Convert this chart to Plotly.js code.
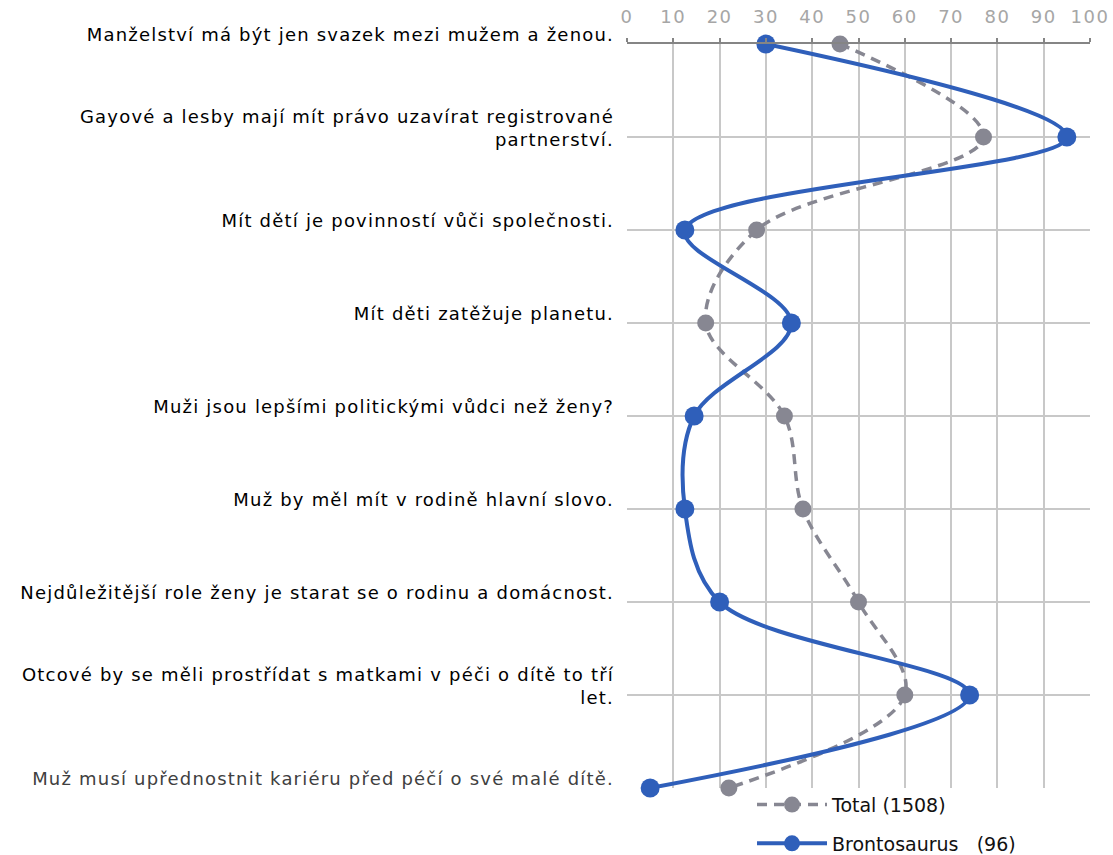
<!DOCTYPE html>
<html>
<head>
<meta charset="utf-8">
<script src="https://cdn.plot.ly/plotly-3.0.1.min.js"></script>
<style>
  html, body { margin: 0; padding: 0; background: #fff; }
  #chart { width: 1113px; height: 855px; }
  /* the original face is a wide geometric one; spread the glyphs a little */
  #chart .ytick text { letter-spacing: 1.2px; }
  #chart .xtick text { letter-spacing: 1.5px; }
</style>
</head>
<body>
<div id="chart"></div>
<script>
// statements, top to bottom
const statements = [
  "Manželství má být jen svazek mezi mužem a ženou.",
  "Gayové a lesby mají mít právo uzavírat registrované<br>partnerství.",
  "Mít dětí je povinností vůči společnosti.",
  "Mít děti zatěžuje planetu.",
  "Muži jsou lepšími politickými vůdci než ženy?",
  "Muž by měl mít v rodině hlavní slovo.",
  "Nejdůležitější role ženy je starat se o rodinu a domácnost.",
  "Otcové by se měli prostřídat s matkami v péči o dítě to tří<br>let.",
  "Muž musí upřednostnit kariéru před péčí o své malé dítě."
];

const totalValues = [46, 77, 28, 17, 34, 38, 50, 60, 22];
const brontoValues = [30, 95, 12.5, 35.5, 14.5, 12.5, 20, 74, 5];

const xTicks = [0, 10, 20, 30, 40, 50, 60, 70, 80, 90, 100];

const keys = statements.map((s, i) => "s" + i);
const labels = statements.map((s, i) =>
  i === statements.length - 1 ? '<span style="color:#404040">' + s + '</span>' : s);

const font = "DejaVu Sans, sans-serif";

const total = {
  x: totalValues,
  y: keys,
  name: "Total (1508)",
  type: "scatter",
  mode: "lines+markers",
  line: {shape: "spline", smoothing: 1, color: "#878792", width: 3.5, dash: "10px,7px"},
  marker: {size: 17, color: "#878792"},
  legendgroup: "a",
  cliponaxis: false,
};

const bronto = {
  x: brontoValues,
  y: keys,
  name: "Brontosaurus\u00a0\u00a0\u00a0(96)",
  type: "scatter",
  mode: "lines+markers",
  line: {shape: "spline", smoothing: 1, color: "#2f5fba", width: 4},
  marker: {size: 19, color: "#2f5fba"},
  legendgroup: "b",
  cliponaxis: false,
};

Plotly.newPlot("chart", [total, bronto], {
  width: 1113,
  height: 855,
  margin: {l: 627, r: 23, t: 44, b: 67, autoexpand: false},
  paper_bgcolor: "#fff",
  plot_bgcolor: "#fff",
  font: {family: font, size: 17, color: "#000"},
  showlegend: true,
  legend: {
    x: 0.27, y: 0.003, xanchor: "left", yanchor: "top",
    traceorder: "grouped", tracegroupgap: 11,
    itemwidth: 70,
    font: {family: font, size: 19, color: "#111"},
    bgcolor: "rgba(0,0,0,0)",
  },
  xaxis: {
    side: "top",
    range: [0, 100],
    tickvals: xTicks,
    showgrid: true,
    gridcolor: "#c8c8c8",
    gridwidth: 2,
    zeroline: false,
    showline: true,
    linecolor: "#858585",
    linewidth: 2,
    ticks: "outside",
    ticklen: 4,
    tickwidth: 2,
    tickcolor: "#858585",
    ticklabelstandoff: 8,
    tickfont: {family: font, size: 18, color: "#a6a6a6"},
    fixedrange: true,
  },
  yaxis: {
    type: "category",
    range: [statements.length - 1, 0],
    tickvals: keys,
    ticktext: labels,
    showgrid: true,
    gridcolor: "#c8c8c8",
    gridwidth: 2,
    zeroline: false,
    showline: false,
    ticks: "",
    ticklabelstandoff: 12,
    ticklabelshift: 9,
    tickfont: {family: font, size: 18, color: "#000"},
    fixedrange: true,
  },
}, {displayModeBar: false, staticPlot: true});
</script>
</body>
</html>
